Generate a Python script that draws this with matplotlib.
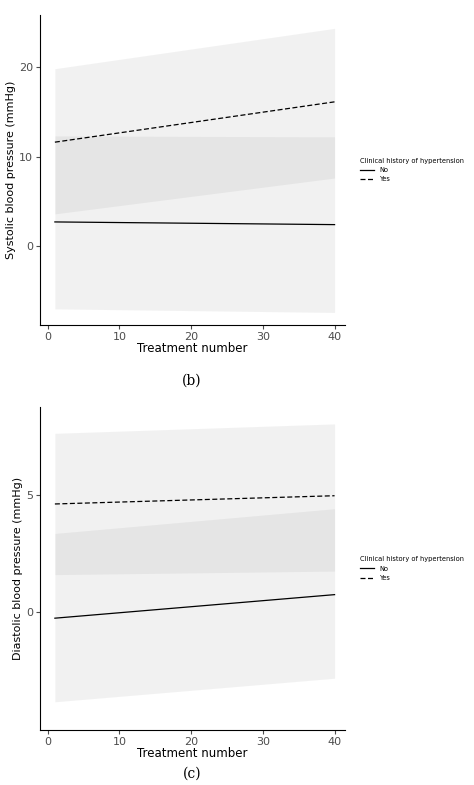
import matplotlib
matplotlib.use("Agg")
import matplotlib.pyplot as plt
from matplotlib.lines import Line2D

treatment = [1, 40]

# panel (b): systolic
sys_no = [2.7, 2.4]
sys_no_lo = [-7.0, -7.4]
sys_no_hi = [12.3, 12.2]
sys_yes = [11.6, 16.1]
sys_yes_lo = [3.6, 7.6]
sys_yes_hi = [19.8, 24.3]

# panel (c): diastolic
dia_no = [-0.25, 0.75]
dia_no_lo = [-3.8, -2.8]
dia_no_hi = [3.35, 4.4]
dia_yes = [4.6, 4.95]
dia_yes_lo = [1.6, 1.75]
dia_yes_hi = [7.6, 8.0]

BAND = "#7f7f7f"


def panel(ax, no, no_lo, no_hi, yes, yes_lo, yes_hi, ylabel, yticks, ylim):
    ax.fill_between(treatment, no_lo, no_hi, color=BAND, alpha=0.1, linewidth=0)
    ax.fill_between(treatment, yes_lo, yes_hi, color=BAND, alpha=0.1, linewidth=0)
    ax.plot(treatment, no, color="black", linewidth=0.9)
    ax.plot(treatment, yes, color="black", linewidth=0.9, linestyle=(0, (4, 2)))
    ax.set_xlim(-1.1, 41.4)
    ax.set_ylim(*ylim)
    ax.set_xticks([0, 10, 20, 30, 40])
    ax.set_yticks(yticks)
    ax.tick_params(labelsize=8, colors="#4d4d4d", length=3, pad=2)
    ax.set_xlabel("Treatment number", fontsize=8.5, labelpad=0)
    ax.set_ylabel(ylabel, fontsize=8, labelpad=2)
    for s in ("top", "right"):
        ax.spines[s].set_visible(False)
    for s in ("left", "bottom"):
        ax.spines[s].set_linewidth(0.8)
    handles = [Line2D([], [], color="black", lw=0.9),
               Line2D([], [], color="black", lw=0.9, ls=(0, (4, 2)))]
    leg = ax.legend(handles, ["No", "Yes"], title="Clinical history of hypertension",
                    loc="center left", bbox_to_anchor=(1.03, 0.5), frameon=False,
                    fontsize=4.8, title_fontsize=4.8, handlelength=2.2)
    leg._legend_box.align = "left"


fig = plt.figure(figsize=(4.74, 7.85), dpi=100)
ax1 = fig.add_axes([0.084, 0.586, 0.643, 0.395])
ax2 = fig.add_axes([0.084, 0.07, 0.643, 0.411])
panel(ax1, sys_no, sys_no_lo, sys_no_hi, sys_yes, sys_yes_lo, sys_yes_hi,
      "Systolic blood pressure (mmHg)", [0, 10, 20], (-8.8, 25.8))
panel(ax2, dia_no, dia_no_lo, dia_no_hi, dia_yes, dia_yes_lo, dia_yes_hi,
      "Diastolic blood pressure (mmHg)", [0, 5], (-5.0, 8.7))
fig.text(0.405, 1 - 381 / 785, "(b)", ha="center", va="center", fontsize=10, family="DejaVu Serif")
fig.text(0.405, 1 - 774 / 785, "(c)", ha="center", va="center", fontsize=10, family="DejaVu Serif")
fig.savefig("out.png", dpi=100)
